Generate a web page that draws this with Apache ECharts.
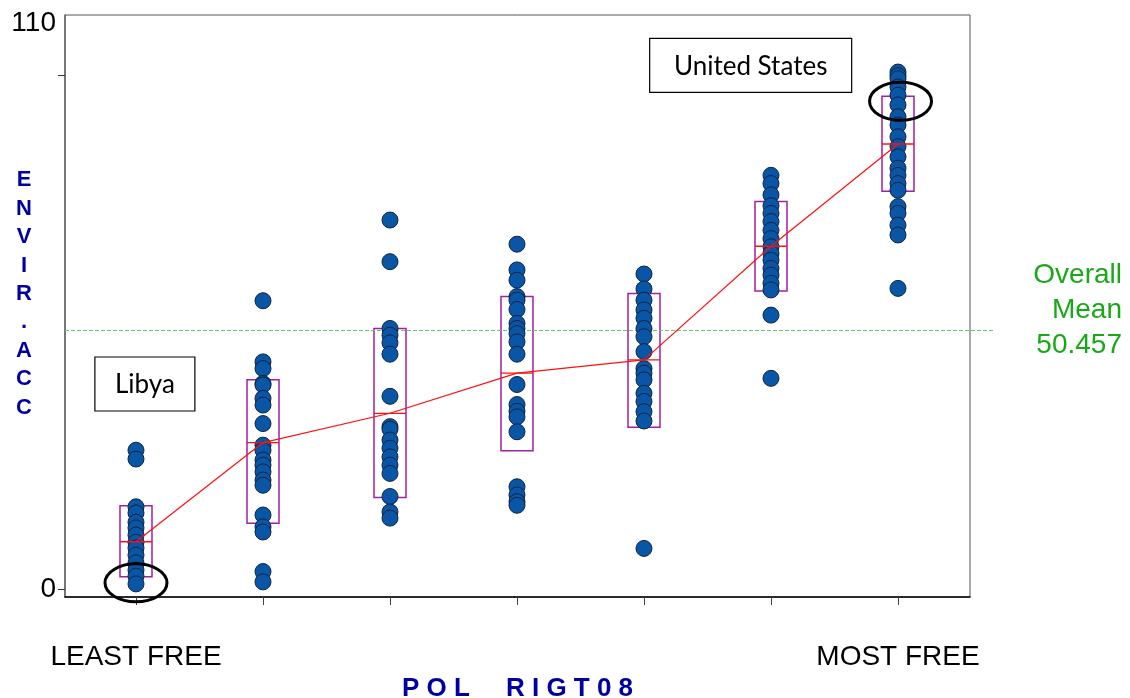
<!DOCTYPE html>
<html>
<head>
<meta charset="utf-8">
<script src="https://cdn.jsdelivr.net/npm/echarts@6/dist/echarts.min.js"></script>
<style>
html,body{margin:0;padding:0;background:#fff;}
#chart{width:1130px;height:698px;}
</style>
</head>
<body>
<div id="chart"></div>
<script>
// ---- data ----
const categories = [1, 2, 3, 4, 5, 6, 7];
const xTickLabels = { 1: 'LEAST FREE', 7: 'MOST FREE' };
const col1 = [27.0, 25.3, 16.0, 14.8, 13.0, 11.9, 10.5, 9.1, 8.0, 6.6, 5.1, 3.7, 2.5, 1.0];
const col2 = [56.1, 44.2, 42.9, 40.0, 39.7, 37.1, 35.8, 32.2, 28.0, 27.0, 25.1, 24.1, 22.8, 21.2, 20.2, 14.4, 12.1, 11.1, 3.4, 1.4];
const col3 = [71.8, 63.7, 50.7, 49.4, 47.9, 45.7, 37.5, 31.6, 31.1, 29.0, 27.4, 25.7, 24.1, 22.5, 18.0, 15.0, 13.8];
const col4 = [67.1, 62.1, 60.1, 56.9, 56.2, 54.4, 51.7, 50.7, 49.7, 48.1, 45.7, 39.8, 35.9, 34.6, 33.5, 30.6, 19.9, 18.3, 17.0, 16.3];
const col5 = [61.3, 58.4, 56.2, 54.3, 52.7, 50.7, 49.1, 46.2, 42.9, 42.0, 40.7, 38.1, 36.5, 34.5, 32.7, 7.9];
const col6 = [80.5, 78.9, 76.7, 74.6, 73.1, 71.5, 69.8, 68.2, 66.6, 65.3, 64.0, 62.4, 61.1, 59.5, 58.2, 53.3, 41.0];
const col7 = [100.6, 99.9, 99.3, 97.7, 96.1, 94.2, 91.9, 90.3, 88.0, 86.1, 84.1, 81.9, 80.5, 78.9, 77.6, 74.4, 73.1, 70.8, 68.9, 58.5];
const groupMeans = [9.2, 28.5, 34.2, 42.0, 44.6, 66.7, 86.6];
const boxHigh = [16.2, 40.7, 50.7, 56.9, 57.5, 75.4, 95.9];
const boxLow = [2.4, 12.8, 17.8, 26.9, 31.5, 58.0, 77.4];
const overallMean = 50.457;
const yTickValues = [0, 100];
const yLabelValues = [0, 110];
const xAxisTitle = 'P O L     R I G T 0 8';
const yAxisTitle = 'E\nN\nV\nI\nR\n.\nA\nC\nC';
const annotations = [
  { x: 5.84, y: 101.9, text: 'United States', w: 202, h: 54 },
  { x: 1.07, y: 39.9, text: 'Libya', w: 100, h: 54 }
];
const highlightEllipses = [
  { x: 1.0, y: 1.2 },
  { x: 7.02, y: 94.9 }
];

// ---- build ----
const columns = [col1, col2, col3, col4, col5, col6, col7];
const points = [];
columns.forEach((vals, i) => vals.forEach(v => points.push([categories[i], v])));
const boxData = categories.map((c, i) => [c, boxLow[i], boxHigh[i], groupMeans[i]]);
const meanLineData = categories.map((c, i) => [c, groupMeans[i]]);

const X_MIN = 0.441, X_MAX = 7.567;
const chart = echarts.init(document.getElementById('chart'));

chart.setOption({
  animation: false,
  backgroundColor: '#fff',
  grid: { left: 65, top: 15, right: 160, bottom: 101, containLabel: false, outerBoundsMode: 'none', show: true, borderColor: '#555', borderWidth: 1 },
  xAxis: {
    type: 'value', min: X_MIN, max: X_MAX,
    splitLine: { show: false },
    axisLine: { show: true, onZero: false, lineStyle: { color: '#000', width: 1.5 } },
    axisTick: { show: true, length: 8, customValues: categories, lineStyle: { color: '#444' } },
    axisLabel: {
      customValues: [1, 7], margin: 46,
      formatter: v => xTickLabels[Math.round(v)] || '',
      fontFamily: 'Liberation Sans', fontSize: 28, color: '#000'
    },
    name: xAxisTitle, nameLocation: 'middle', nameGap: 74,
    nameTextStyle: { fontFamily: 'Liberation Sans', fontWeight: 'bold', fontSize: 26, color: '#0000a0' }
  },
  yAxis: {
    type: 'value', min: -1.55, max: 111.7,
    splitLine: { show: false },
    axisLine: { show: true, onZero: false, lineStyle: { color: '#666', width: 1.5 } },
    axisTick: { show: true, length: 7, customValues: yTickValues, lineStyle: { color: '#333' } },
    axisLabel: {
      customValues: yLabelValues, margin: 9,
      fontFamily: 'Liberation Sans', fontSize: 28, color: '#000'
    }
  },
  series: [
    {
      type: 'custom', name: 'boxes', z: 1,
      data: boxData,
      renderItem: (params, api) => {
        const top = api.coord([api.value(0), api.value(2)]);
        const bot = api.coord([api.value(0), api.value(1)]);
        return {
          type: 'rect',
          shape: { x: top[0] - 16, y: top[1], width: 32, height: bot[1] - top[1] },
          style: { fill: 'none', stroke: '#a020a0', lineWidth: 1.5 }
        };
      }
    },
    {
      type: 'custom', name: 'overallMean', z: 1,
      data: [[X_MIN, overallMean]],
      clip: false,
      renderItem: (params, api) => {
        const p1 = api.coord([X_MIN, api.value(1)]);
        const p2 = api.coord([X_MAX + 0.197, api.value(1)]);
        const y = Math.round(p1[1]) + 0.5;
        return {
          type: 'line',
          shape: { x1: p1[0], y1: y, x2: p2[0], y2: y },
          style: { stroke: '#6cc46c', lineWidth: 1, lineDash: [4, 2] }
        };
      }
    },
    {
      type: 'scatter', name: 'points', z: 3,
      data: points, symbolSize: 16,
      itemStyle: { color: '#0a56a6', borderColor: '#10243f', borderWidth: 1, opacity: 1 }
    },
    {
      type: 'line', name: 'means', z: 4,
      data: meanLineData, symbol: 'none',
      lineStyle: { color: '#ff1010', width: 1.2 }
    },
    {
      type: 'custom', name: 'meanMarks', z: 4,
      data: boxData,
      renderItem: (params, api) => {
        const m = api.coord([api.value(0), api.value(3)]);
        return {
          type: 'line',
          shape: { x1: m[0] - 16, y1: m[1], x2: m[0] + 16, y2: m[1] },
          style: { stroke: '#ff1010', lineWidth: 1.3 }
        };
      }
    },
    {
      type: 'custom', name: 'ellipses', z: 5, clip: false,
      data: highlightEllipses.map(e => [e.x, e.y]),
      renderItem: (params, api) => {
        const c = api.coord([api.value(0), api.value(1)]);
        return {
          type: 'ellipse',
          shape: { cx: c[0], cy: c[1], rx: 31, ry: 19 },
          style: { fill: 'none', stroke: '#000', lineWidth: 3 }
        };
      }
    },
    {
      type: 'custom', name: 'annotations', z: 5, clip: false,
      data: annotations.map(a => [a.x, a.y, a.w, a.h]),
      renderItem: (params, api) => {
        const c = api.coord([api.value(0), api.value(1)]);
        const w = api.value(2), h = api.value(3);
        const a = annotations[params.dataIndex];
        return {
          type: 'group',
          children: [
            { type: 'rect', shape: { x: c[0] - w / 2, y: c[1] - h / 2, width: w, height: h },
              style: { fill: '#fff', stroke: '#000', lineWidth: 1.2 } },
            { type: 'text', x: c[0], y: c[1] + 1,
              style: { text: a.text, fontFamily: 'Lato', fontSize: 26, fill: '#000', align: 'center', verticalAlign: 'middle' } }
          ]
        };
      }
    }
  ],
  graphic: [
    {
      type: 'text', x: 24, y: 294,
      style: { text: yAxisTitle, fontFamily: 'Liberation Sans', fontWeight: 'bold', fontSize: 22, lineHeight: 28.4, fill: '#0000a0', align: 'center', verticalAlign: 'middle' }
    },
    {
      type: 'text', x: 1122, y: 310,
      style: { text: 'Overall\nMean\n' + overallMean.toFixed(3), fontFamily: 'Liberation Sans', fontSize: 28, lineHeight: 35, fill: '#18a818', align: 'right', verticalAlign: 'middle' }
    }
  ]
});
</script>
</body>
</html>
